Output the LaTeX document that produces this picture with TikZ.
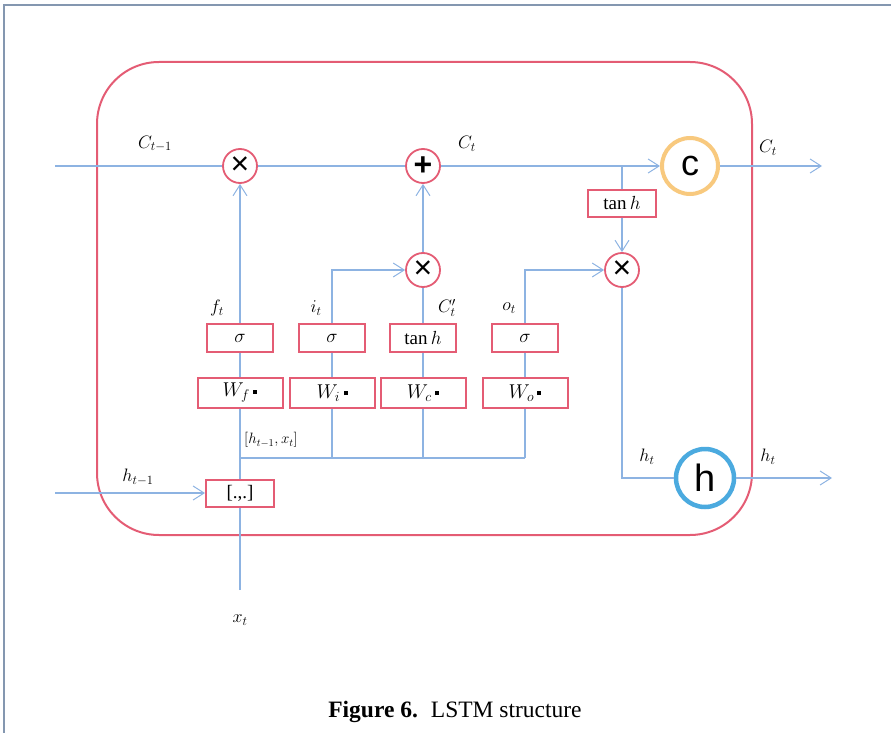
\RequirePackage{fix-cm}
\documentclass[tikz,border=0pt]{standalone}
\usepackage{amsmath,amssymb}
\usepackage{fontspec}
\setmainfont{Liberation Serif}
\newfontfamily\arialfont{Liberation Sans}
\usepackage{tikz}
\usetikzlibrary{arrows.meta, positioning, shapes, calc}

\definecolor{framegray}{HTML}{8497B0}
\definecolor{cellred}{HTML}{E45C74}
\definecolor{wireblue}{HTML}{8DB3E2}
\definecolor{corange}{HTML}{F8C97E}
\definecolor{hblue}{HTML}{4BAADF}

\newcommand{\sq}{\,\raisebox{0.35ex}{\rule{4pt}{4pt}}}

\begin{document}
\begin{tikzpicture}[x=1pt, y=-1pt,
    wire/.style={wireblue, line width=1.2pt},
    >={Straight Barb[length=11pt,width=14pt,line width=1pt]},
    gatebox/.style={draw=cellred, line width=2pt, fill=white, minimum width=66pt, minimum height=28pt, inner sep=0pt, font=\fontsize{19}{21}\selectfont},
    wbox/.style={gatebox, minimum width=85pt, minimum height=30pt, font=\fontsize{20}{22}\selectfont},
    opnode/.style={circle, draw=cellred, line width=1.8pt, fill=white, minimum size=34pt, inner sep=0pt, font=\arialfont\fontsize{32}{32}\selectfont},
    lbl/.style={font=\fontsize{18}{20}\selectfont}]

            \useasboundingbox (0,0) rectangle (891,733);

            % Khung ngoài
            \draw[framegray, line width=1.5pt] (4,733) -- (4,5) -- (891,5);

            % Ô LSTM
            \draw[cellred, line width=2pt, rounded corners=62pt] (97,62) rectangle (752,535);

            % Các phép toán trên đường C
            \node[opnode] (mulf) at (240,166) {×};
            \node[opnode] (add) at (423,166) {\textbf{+}};
            \node[opnode] (muli) at (423,270) {×};
            \node[opnode] (mulo) at (622,270) {×};
            \node[circle, draw=corange, line width=4pt, fill=white, minimum width=54pt, minimum height=56pt, inner sep=0pt, font=\arialfont\fontsize{36}{36}\selectfont] (cnode) at (690,166) {c};
            \node[circle, draw=hblue, line width=4.5pt, fill=white, minimum size=58pt, inner sep=0pt, font=\arialfont\fontsize{38}{38}\selectfont] (hnode) at (705,478) {h};
            \node[gatebox, minimum width=68pt, minimum height=27pt] (tanhc) at (622,203) {$\tan h$};

            % Các cổng
            \node[gatebox] (sigf) at (240,338) {$\sigma$};
            \node[gatebox] (sigi) at (332,338) {$\sigma$};
            \node[gatebox] (tanhg) at (423,338) {$\tan h$};
            \node[gatebox] (sigo) at (525,338) {$\sigma$};
            \node[wbox] (wf) at (240,393) {$W_f$\sq};
            \node[wbox] (wi) at (332,393) {$W_i$\sq};
            \node[wbox] (wc) at (423,393) {$W_c$\sq};
            \node[wbox] (wo) at (525,393) {$W_o$\sq};
            \node[gatebox, minimum width=68pt, minimum height=27pt] (concat) at (240,493) {[.,.]};

            % Các điểm đầu vào, đầu ra
            \coordinate (cin) at (55,166);
            \coordinate (cout) at (822,166);
            \coordinate (cbr) at (622,166);
            \coordinate (hin) at (55,493);
            \coordinate (hout) at (832,478);
            \coordinate (xin) at (240,590);
            \coordinate (bus) at (240,458);
            \coordinate (busi) at (332,458);
            \coordinate (busc) at (423,458);
            \coordinate (buso) at (525,458);

            % Đường trạng thái C
            \draw[wire] (cin) -- (mulf);
            \draw[wire] (mulf) -- (add);
            \draw[wire, ->] (add) -- (cnode);
            \draw[wire, ->] (cnode) -- (cout);
            \draw[wire] (cbr) -- (tanhc);
            \draw[wire, ->] (tanhc) -- (mulo);

            % Đầu vào h, x
            \draw[wire, ->] (hin) -- (concat);
            \draw[wire] (xin) -- (concat);
            \draw[wire] (concat) -- (wf);
            \draw[wire] (bus) -- (buso);
            \draw[wire] (busi) -- (wi);
            \draw[wire] (busc) -- (wc);
            \draw[wire] (buso) -- (wo);

            % Các cổng lên phép nhân
            \draw[wire] (wf) -- (sigf);
            \draw[wire, ->] (sigf) -- (mulf);
            \draw[wire] (wi) -- (sigi);
            \draw[wire, ->] (sigi) |- (muli);
            \draw[wire] (wc) -- (tanhg);
            \draw[wire] (tanhg) -- (muli);
            \draw[wire, ->] (muli) -- (add);
            \draw[wire] (wo) -- (sigo);
            \draw[wire, ->] (sigo) |- (mulo);

            % Đầu ra h
            \draw[wire] (mulo) |- (hnode);
            \draw[wire, ->] (hnode) -- (hout);

            % Nhãn
            \node[lbl] (lcprev) at (155,144) {$C_{t-1}$};
            \node[lbl] (lc) at (467,144) {$C_t$};
            \node[lbl] (lcout) at (768,148) {$C_t$};
            \node[lbl] (lf) at (217,308) {$f_t$};
            \node[lbl] (li) at (316,308) {$i_t$};
            \node[lbl] (lcc) at (447,308) {$C'_t$};
            \node[lbl] (lo) at (509,308) {$o_t$};
            \node[font=\fontsize{15}{17}\selectfont] (lhx) at (271,440) {$[h_{t-1},x_t]$};
            \node[lbl] (lhprev) at (138,477) {$h_{t-1}$};
            \node[lbl] (lx) at (240,620) {$x_t$};
            \node[lbl] (lh) at (647,457) {$h_t$};
            \node[lbl] (lhout) at (768,457) {$h_t$};

            % Chú thích
            \node[font=\fontsize{23.5}{26}\selectfont] (caption) at (455,712) {\textbf{Figure 6.}\hspace{0.55em}LSTM structure};

\end{tikzpicture}
\end{document}
